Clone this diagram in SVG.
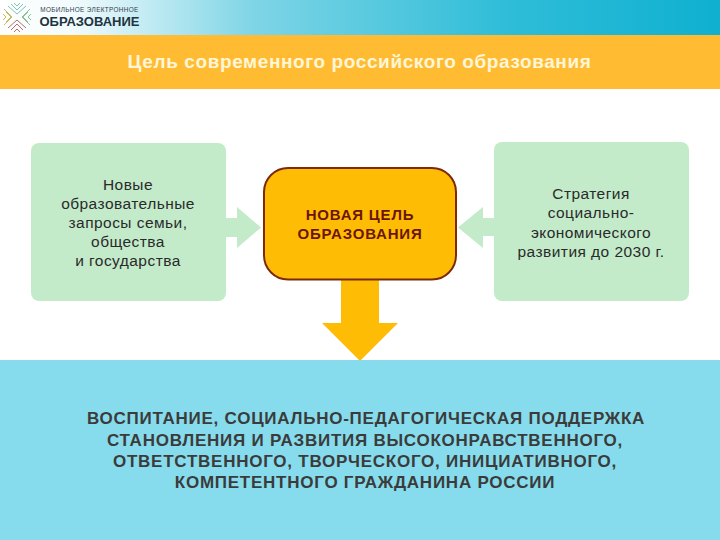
<svg xmlns="http://www.w3.org/2000/svg" width="720" height="540" viewBox="0 0 720 540">
<defs>
<linearGradient id="hdr" x1="0" y1="0" x2="1" y2="0">
<stop offset="0" stop-color="#ffffff"/><stop offset="0.1" stop-color="#f2fbfd"/><stop offset="0.35" stop-color="#7fd5e6"/><stop offset="0.7" stop-color="#2fbdd8"/><stop offset="1" stop-color="#0fb0d0"/>
</linearGradient>
</defs>
<style>
text{font-family:"Liberation Sans",Arial,sans-serif;text-anchor:middle}
.g{fill:#c3ebca}
.n{font-size:15.5px;fill:#2a2a2a;letter-spacing:.45px}
.b{font-size:17px;font-weight:bold;fill:#3b3b3b;letter-spacing:.75px}
.m{font-size:15px;fill:#6b1503;font-weight:bold;letter-spacing:.8px}
.l{fill:none;stroke-width:1}
</style>
<rect width="720" height="540" fill="#fff"/>
<g id="header">
<rect width="720" height="35" fill="url(#hdr)"/>
<rect y="35" width="720" height="54" fill="#ffbc33"/>
<text x="359.500" y="68" font-size="19" font-weight="bold" fill="#fff6d8" letter-spacing=".6">Цель современного российского образования</text>
</g>
<g id="logo">
<path class="l" stroke="#7fc4b4" d="M8 6l9 8 9-8M11 4l6 6 6-6M14 3l3 3 3-3"/>
<path class="l" stroke="#c9bb62" d="M4 9l8 8-8 8M6 12l5 5-5 5M3 14l3 3-3 3"/>
<path class="l" stroke="#8fbf95" d="M30 9l-8 8 8 8M28 12l-5 5 5 5M31 14l-3 3 3 3"/>
<path class="l" stroke="#bb6d68" d="M8 28l9-8 9 8M11 30l6-6 6 6M14 32l3-3 3 3"/>
<text x="89.500" y="12" font-size="6.400" fill="#33404a" letter-spacing=".35">МОБИЛЬНОЕ ЭЛЕКТРОННОЕ</text>
<text x="89.500" y="25.500" font-size="13" font-weight="bold" fill="#1f3440">ОБРАЗОВАНИЕ</text>
</g>
<g id="connectors">
<path class="g" d="M226 218H237V207L261 227.500L237 248V237H226Z"/>
<path class="g" d="M494 218H483V207L458 227.500L483 248V236H494Z"/>
<path fill="#ffbc05" d="M341 280H379V323H398L360 361L322 323H341Z"/>
</g>
<g id="left-node">
<rect class="g" x="31" y="143" width="195" height="158" rx="8"/>
<text class="n" x="128" y="190">Новые</text>
<text class="n" x="128" y="209">образовательные</text>
<text class="n" x="128" y="228">запросы семьи,</text>
<text class="n" x="128" y="247">общества</text>
<text class="n" x="128" y="266">и государства</text>
</g>
<g id="center-node">
<rect x="264" y="168" width="192" height="111.500" rx="24" fill="#ffbc05" stroke="#7b2a0a" stroke-width="2"/>
<text class="m" x="360" y="220">НОВАЯ ЦЕЛЬ</text>
<text class="m" x="360" y="239">ОБРАЗОВАНИЯ</text>
</g>
<g id="right-node">
<rect class="g" x="494" y="142" width="195" height="159" rx="8"/>
<text class="n" x="591" y="199">Стратегия</text>
<text class="n" x="591" y="218">социально-</text>
<text class="n" x="591" y="238">экономического</text>
<text class="n" x="591" y="257">развития до 2030 г.</text>
</g>
<g id="result">
<rect y="360" width="720" height="180" fill="#86dced"/>
<text class="b" x="366" y="424">ВОСПИТАНИЕ, СОЦИАЛЬНО-ПЕДАГОГИЧЕСКАЯ ПОДДЕРЖКА</text>
<text class="b" x="365" y="446">СТАНОВЛЕНИЯ И РАЗВИТИЯ ВЫСОКОНРАВСТВЕННОГО,</text>
<text class="b" x="365" y="467">ОТВЕТСТВЕННОГО, ТВОРЧЕСКОГО, ИНИЦИАТИВНОГО,</text>
<text class="b" x="365" y="488">КОМПЕТЕНТНОГО ГРАЖДАНИНА РОССИИ</text>
</g>
</svg>
